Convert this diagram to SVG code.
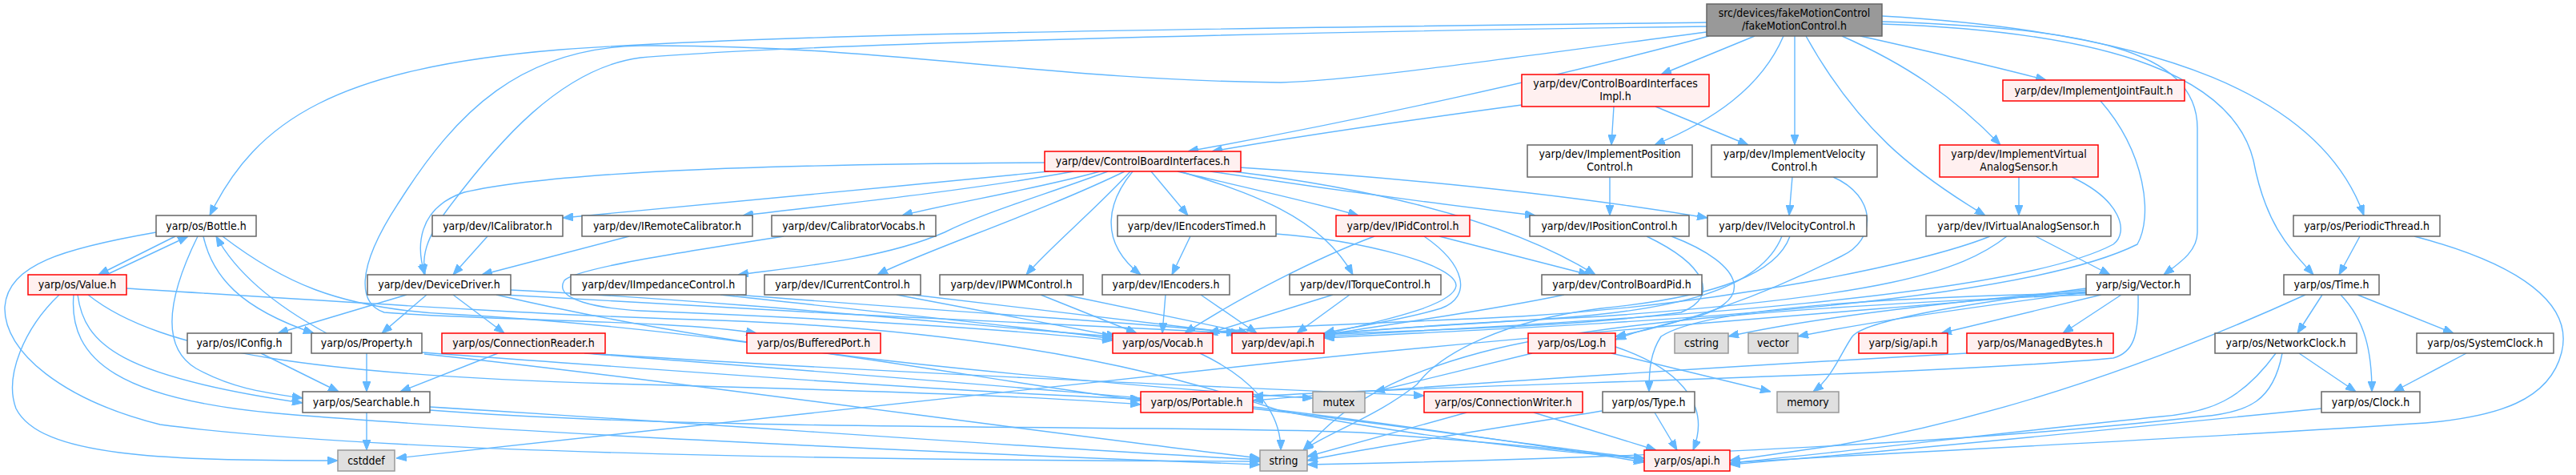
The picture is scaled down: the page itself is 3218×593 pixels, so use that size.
<svg xmlns="http://www.w3.org/2000/svg" width="3218" height="593" viewBox="0 0 3218 593">
<style>
.nd rect{fill:#ffffff;stroke:#666666;stroke-width:1.5}
.rd rect{fill:#fff0f0;stroke:#ff0000;stroke-width:1.5}
.gy rect{fill:#e0e0e0;stroke:#999999;stroke-width:1.5}
.tt rect{fill:#999999;stroke:#666666;stroke-width:1.5}
text{font-family:"DejaVu Sans Condensed","DejaVu Sans",sans-serif;font-stretch:condensed;font-size:14px;fill:#000000;text-anchor:middle}
#edges path{fill:none;stroke:#63b8ff;stroke-width:1.4;marker-end:url(#ah)}
</style>
<defs>
<marker id="ah" markerUnits="userSpaceOnUse" markerWidth="13" markerHeight="10" refX="13" refY="5" orient="auto">
<path d="M0,0 L13,5 L0,10 z" fill="#63b8ff" stroke="#63b8ff" stroke-width="1"/>
</marker>
</defs>
<rect width="3218" height="593" fill="#ffffff"/>
<g id="edges">
<path d="M2192,45 L2075,93"/>
<path d="M2135,45 C1950,95 1700,150 1484,189"/>
<path d="M1901,131 C1760,150 1620,170 1514,189"/>
<path d="M2228,45 C2200,110 2140,150 2067,181"/>
<path d="M2016,133 L2013,181"/>
<path d="M2068,133 L2184,181"/>
<path d="M2242,45 L2242,181"/>
<path d="M2256,45 C2320,160 2390,215 2480,269"/>
<path d="M2324,45 C2400,62 2480,80 2556,100"/>
<path d="M2301,45 C2380,80 2440,120 2499,181"/>
<path d="M2351,27 C2600,35 2745,60 2745,160 L2745,290 C2745,315 2720,330 2703,343"/>
<path d="M2351,30 C2650,40 2790,100 2815,200 C2830,280 2860,310 2890,343"/>
<path d="M2351,20 C2700,40 2900,120 2953,269"/>
<path d="M2132,28 C1600,35 1000,40 700,62 C420,85 320,150 262,269"/>
<path d="M2132,33 C1600,40 1000,55 800,72 C700,85 620,180 560,260 C530,300 528,320 530,343"/>
<path d="M2132,40 C1900,70 1700,100 1600,103 C1300,100 1100,55 800,57 C650,60 570,140 500,250 C440,340 450,380 480,390 C600,400 850,400 945,416"/>
<path d="M1305,203 C1000,205 700,212 580,240 C520,260 520,310 531,343"/>
<path d="M1310,214 C1100,235 850,258 703,272"/>
<path d="M1341,214 C1200,240 1000,260 928,269"/>
<path d="M1374,214 C1300,235 1180,255 1127,269"/>
<path d="M1384,214 C1300,245 1230,265 1180,290 C1100,325 980,335 922,343"/>
<path d="M1405,214 C1300,265 1150,315 1096,343"/>
<path d="M1412,214 C1370,260 1310,310 1282,343"/>
<path d="M1415,214 C1385,250 1370,300 1425,343"/>
<path d="M1438,214 L1484,269"/>
<path d="M1471,214 C1560,235 1650,255 1697,269"/>
<path d="M1474,214 C1560,240 1650,270 1690,343"/>
<path d="M1512,214 C1650,235 1800,255 1918,269"/>
<path d="M1548,209 C1800,225 2000,250 2133,272"/>
<path d="M1540,214 C1750,240 1900,285 1993,343"/>
<path d="M2011,221 L2011,269"/>
<path d="M2239,221 L2235,269"/>
<path d="M2290,221 C2345,245 2345,300 2300,320 C2200,370 2100,405 2018,420"/>
<path d="M2522,221 L2522,269"/>
<path d="M2588,221 C2650,250 2660,290 2640,305 C2500,380 1900,405 1654,420"/>
<path d="M2624,126 C2680,190 2690,270 2670,305 C2500,390 1900,408 1654,422"/>
<path d="M219,295 L123,343"/>
<path d="M133,343 L235,295"/>
<path d="M247,295 C215,360 195,430 245,460 C290,485 330,490 378,497"/>
<path d="M254,295 C265,345 300,385 392,416"/>
<path d="M408,416 C360,390 300,350 270,295"/>
<path d="M278,295 C350,350 420,385 560,392 C900,410 1200,470 1425,500"/>
<path d="M195,290 C80,310 10,330 6,383 C4,440 80,500 200,530 C500,570 1200,575 1574,576"/>
<path d="M609,295 L566,343"/>
<path d="M786,295 L602,343"/>
<path d="M979,295 C850,315 720,335 705,350 C690,375 750,385 800,388 C1100,400 1300,415 1390,425"/>
<path d="M1487,295 L1464,343"/>
<path d="M1594,292 C1700,300 1820,330 1819,357 C1815,385 1700,405 1654,418"/>
<path d="M1717,295 C1650,320 1550,370 1480,416"/>
<path d="M1798,295 L1985,343"/>
<path d="M1779,295 C1830,330 1840,370 1800,385 C1750,400 1680,410 1654,416"/>
<path d="M2057,295 C2130,330 2150,370 2100,390 C1950,410 1750,412 1654,418"/>
<path d="M2088,295 C2180,330 2200,380 2100,400 C2060,410 2040,415 2018,424"/>
<path d="M2226,295 C2200,360 2100,390 1900,400 C1780,408 1700,412 1654,418"/>
<path d="M2236,295 C2220,340 2150,370 2000,385 C1880,400 1800,440 1770,480 C1720,520 1660,540 1628,562"/>
<path d="M2543,295 L2636,343"/>
<path d="M2486,295 C2400,330 2150,380 1900,395 C1700,405 1560,408 1508,416"/>
<path d="M2507,295 C2450,340 2350,370 2000,395 C1800,405 1700,412 1654,418"/>
<path d="M2948,295 L2922,343"/>
<path d="M3016,295 C3150,330 3215,380 3200,440 C3185,500 3120,520 3030,528 C2700,550 2300,568 2161,578"/>
<path d="M74,368 C30,410 5,470 20,510 C50,570 200,575 422,575"/>
<path d="M92,368 C85,450 150,500 357,517 C700,545 1300,570 1574,580"/>
<path d="M97,368 C105,430 150,470 378,503"/>
<path d="M110,368 C200,440 400,470 800,480 C1100,488 1300,495 1425,505"/>
<path d="M158,360 C400,375 700,395 900,400 C1300,415 1500,480 1600,513 C1800,550 1950,565 2054,572"/>
<path d="M508,368 L347,416"/>
<path d="M533,368 L477,416"/>
<path d="M566,368 L630,416"/>
<path d="M638,362 C900,375 1200,405 1390,420"/>
<path d="M630,368 C900,385 1300,405 1545,416"/>
<path d="M620,368 C800,410 1000,440 1200,460 C1400,480 1550,492 1640,497"/>
<path d="M900,368 C1100,390 1300,410 1390,423"/>
<path d="M920,368 C1200,390 1450,405 1550,416"/>
<path d="M1120,368 L1395,420"/>
<path d="M1140,368 L1545,416"/>
<path d="M1300,368 L1420,416"/>
<path d="M1330,368 L1560,416"/>
<path d="M1456,368 L1452,416"/>
<path d="M1500,368 L1570,416"/>
<path d="M1665,368 L1510,416"/>
<path d="M1686,368 L1620,416"/>
<path d="M1954,368 C1850,390 1700,410 1654,418"/>
<path d="M2625,368 L2425,416"/>
<path d="M2650,368 L2577,416"/>
<path d="M2671,368 C2672,420 2665,440 2640,447 C2400,470 1800,480 1565,495"/>
<path d="M2606,362 C2400,380 2250,400 2159,420"/>
<path d="M2606,365 C2450,385 2320,405 2246,420"/>
<path d="M2606,366 C2300,372 2120,390 2075,420 C2062,440 2060,460 2060,489"/>
<path d="M2606,368 C2300,380 2000,400 1850,440 C1700,480 1660,530 1628,562"/>
<path d="M2606,360 C2450,380 2330,400 2314,420 C2300,440 2290,470 2265,489"/>
<path d="M2606,364 C2300,390 1900,420 1600,452 C1200,495 800,540 495,572"/>
<path d="M2901,368 L2870,416"/>
<path d="M2945,368 L3065,416"/>
<path d="M2924,368 C2955,400 2963,440 2963,489"/>
<path d="M2880,368 C2700,450 2500,520 2300,555 C2230,565 2180,572 2161,575"/>
<path d="M2872,441 L2943,489"/>
<path d="M2843,441 C2800,500 2760,515 2700,520 C2500,540 2300,565 2161,578"/>
<path d="M2851,441 C2840,500 2810,515 2750,520 C2400,560 1900,575 1633,580"/>
<path d="M3081,441 L2990,489"/>
<path d="M2900,510 C2700,530 2400,560 2161,580"/>
<path d="M326,441 L423,489"/>
<path d="M458,441 L458,489"/>
<path d="M622,441 L500,489"/>
<path d="M527,440 C800,460 1200,490 1425,498"/>
<path d="M530,442 C800,470 1300,540 1574,572"/>
<path d="M730,441 C1100,470 1500,500 1650,520 C1850,545 1980,565 2054,572"/>
<path d="M736,441 C1100,465 1500,482 1779,494"/>
<path d="M1499,441 C1560,470 1600,510 1600,562"/>
<path d="M1914,441 L1717,489"/>
<path d="M2013,441 L2212,489"/>
<path d="M2018,433 C2090,457 2140,500 2115,562"/>
<path d="M2457,441 C2200,455 1800,480 1565,500"/>
<path d="M458,515 L458,562"/>
<path d="M537,508 C900,530 1300,560 1574,574"/>
<path d="M537,512 C900,540 1500,530 1700,540 C1900,555 2000,565 2054,575"/>
<path d="M1565,508 C1750,530 1950,560 2054,577"/>
<path d="M1832,515 L1633,570"/>
<path d="M1916,515 L2069,562"/>
<path d="M2001,513 C1900,530 1700,560 1633,575"/>
<path d="M2067,515 L2095,562"/>
</g>
<g id="n_title" class="tt"><rect x="2132" y="5" width="219" height="40"/><text x="2241.5" y="21">src/devices/fakeMotionControl</text><text x="2241.5" y="37">/fakeMotionControl.h</text></g>
<g id="n_cbiimpl" class="rd"><rect x="1901" y="93" width="234" height="40"/><text x="2018" y="109">yarp/dev/ControlBoardInterfaces</text><text x="2018" y="125">Impl.h</text></g>
<g id="n_ijf" class="rd"><rect x="2502" y="100" width="227" height="26"/><text x="2615.5" y="118">yarp/dev/ImplementJointFault.h</text></g>
<g id="n_cbi" class="rd"><rect x="1305" y="189" width="245" height="25"/><text x="1427.5" y="206">yarp/dev/ControlBoardInterfaces.h</text></g>
<g id="n_implpos" class="nd"><rect x="1908" y="181" width="206" height="40"/><text x="2011" y="197">yarp/dev/ImplementPosition</text><text x="2011" y="213">Control.h</text></g>
<g id="n_implvel" class="nd"><rect x="2138" y="181" width="207" height="40"/><text x="2241.5" y="197">yarp/dev/ImplementVelocity</text><text x="2241.5" y="213">Control.h</text></g>
<g id="n_implvas" class="rd"><rect x="2423" y="181" width="198" height="40"/><text x="2522" y="197">yarp/dev/ImplementVirtual</text><text x="2522" y="213">AnalogSensor.h</text></g>
<g id="n_bottle" class="nd"><rect x="195" y="269" width="125" height="26"/><text x="257.5" y="287">yarp/os/Bottle.h</text></g>
<g id="n_ical" class="nd"><rect x="540" y="269" width="163" height="26"/><text x="621.5" y="287">yarp/dev/ICalibrator.h</text></g>
<g id="n_irc" class="nd"><rect x="727" y="269" width="213" height="26"/><text x="833.5" y="287">yarp/dev/IRemoteCalibrator.h</text></g>
<g id="n_cv" class="nd"><rect x="964" y="269" width="205" height="26"/><text x="1066.5" y="287">yarp/dev/CalibratorVocabs.h</text></g>
<g id="n_iet" class="nd"><rect x="1396" y="269" width="198" height="26"/><text x="1495" y="287">yarp/dev/IEncodersTimed.h</text></g>
<g id="n_ipid" class="rd"><rect x="1669" y="269" width="167" height="26"/><text x="1752.5" y="287">yarp/dev/IPidControl.h</text></g>
<g id="n_ipos" class="nd"><rect x="1911" y="269" width="199" height="26"/><text x="2010.5" y="287">yarp/dev/IPositionControl.h</text></g>
<g id="n_ivel" class="nd"><rect x="2133" y="269" width="199" height="26"/><text x="2232.5" y="287">yarp/dev/IVelocityControl.h</text></g>
<g id="n_ivas" class="nd"><rect x="2406" y="269" width="231" height="26"/><text x="2521.5" y="287">yarp/dev/IVirtualAnalogSensor.h</text></g>
<g id="n_pt" class="nd"><rect x="2865" y="269" width="183" height="26"/><text x="2956.5" y="287">yarp/os/PeriodicThread.h</text></g>
<g id="n_value" class="rd"><rect x="35" y="343" width="123" height="25"/><text x="96.5" y="360">yarp/os/Value.h</text></g>
<g id="n_dd" class="nd"><rect x="459" y="343" width="179" height="25"/><text x="548.5" y="360">yarp/dev/DeviceDriver.h</text></g>
<g id="n_iimp" class="nd"><rect x="713" y="343" width="219" height="25"/><text x="822.5" y="360">yarp/dev/IImpedanceControl.h</text></g>
<g id="n_icur" class="nd"><rect x="955" y="343" width="195" height="25"/><text x="1052.5" y="360">yarp/dev/ICurrentControl.h</text></g>
<g id="n_ipwm" class="nd"><rect x="1174" y="343" width="179" height="25"/><text x="1263.5" y="360">yarp/dev/IPWMControl.h</text></g>
<g id="n_ienc" class="nd"><rect x="1377" y="343" width="159" height="25"/><text x="1456.5" y="360">yarp/dev/IEncoders.h</text></g>
<g id="n_itor" class="nd"><rect x="1611" y="343" width="189" height="25"/><text x="1705.5" y="360">yarp/dev/ITorqueControl.h</text></g>
<g id="n_cbp" class="nd"><rect x="1926" y="343" width="200" height="25"/><text x="2026" y="360">yarp/dev/ControlBoardPid.h</text></g>
<g id="n_vector" class="nd"><rect x="2606" y="343" width="130" height="25"/><text x="2671" y="360">yarp/sig/Vector.h</text></g>
<g id="n_time" class="nd"><rect x="2853" y="343" width="119" height="25"/><text x="2912.5" y="360">yarp/os/Time.h</text></g>
<g id="n_iconfig" class="nd"><rect x="234" y="416" width="130" height="25"/><text x="299" y="433">yarp/os/IConfig.h</text></g>
<g id="n_property" class="nd"><rect x="389" y="416" width="138" height="25"/><text x="458" y="433">yarp/os/Property.h</text></g>
<g id="n_cr" class="rd"><rect x="552" y="416" width="204" height="25"/><text x="654" y="433">yarp/os/ConnectionReader.h</text></g>
<g id="n_bp" class="rd"><rect x="933" y="416" width="167" height="25"/><text x="1016.5" y="433">yarp/os/BufferedPort.h</text></g>
<g id="n_vocab" class="rd"><rect x="1390" y="416" width="125" height="25"/><text x="1452.5" y="433">yarp/os/Vocab.h</text></g>
<g id="n_devapi" class="rd"><rect x="1539" y="416" width="115" height="25"/><text x="1596.5" y="433">yarp/dev/api.h</text></g>
<g id="n_log" class="rd"><rect x="1909" y="416" width="109" height="25"/><text x="1963.5" y="433">yarp/os/Log.h</text></g>
<g id="n_cstring" class="gy"><rect x="2092" y="416" width="67" height="25"/><text x="2125.5" y="433">cstring</text></g>
<g id="n_vectorstd" class="gy"><rect x="2184" y="416" width="62" height="25"/><text x="2215" y="433">vector</text></g>
<g id="n_sigapi" class="rd"><rect x="2322" y="416" width="111" height="25"/><text x="2377.5" y="433">yarp/sig/api.h</text></g>
<g id="n_mb" class="rd"><rect x="2457" y="416" width="183" height="25"/><text x="2548.5" y="433">yarp/os/ManagedBytes.h</text></g>
<g id="n_nc" class="nd"><rect x="2767" y="416" width="177" height="25"/><text x="2855.5" y="433">yarp/os/NetworkClock.h</text></g>
<g id="n_sc" class="nd"><rect x="3019" y="416" width="171" height="25"/><text x="3104.5" y="433">yarp/os/SystemClock.h</text></g>
<g id="n_searchable" class="nd"><rect x="378" y="489" width="159" height="26"/><text x="457.5" y="507">yarp/os/Searchable.h</text></g>
<g id="n_mutex" class="gy"><rect x="1640" y="489" width="65" height="26"/><text x="1672.5" y="507">mutex</text></g>
<g id="n_portable" class="rd"><rect x="1425" y="489" width="140" height="26"/><text x="1495" y="507">yarp/os/Portable.h</text></g>
<g id="n_cw" class="rd"><rect x="1779" y="489" width="198" height="26"/><text x="1878" y="507">yarp/os/ConnectionWriter.h</text></g>
<g id="n_type" class="nd"><rect x="2002" y="489" width="115" height="26"/><text x="2059.5" y="507">yarp/os/Type.h</text></g>
<g id="n_memory" class="gy"><rect x="2220" y="489" width="77" height="26"/><text x="2258.5" y="507">memory</text></g>
<g id="n_clock" class="nd"><rect x="2900" y="489" width="123" height="26"/><text x="2961.5" y="507">yarp/os/Clock.h</text></g>
<g id="n_cstddef" class="gy"><rect x="422" y="562" width="71" height="26"/><text x="457.5" y="580">cstddef</text></g>
<g id="n_string" class="gy"><rect x="1574" y="562" width="59" height="26"/><text x="1603.5" y="580">string</text></g>
<g id="n_osapi" class="rd"><rect x="2054" y="562" width="107" height="26"/><text x="2107.5" y="580">yarp/os/api.h</text></g>
</svg>
